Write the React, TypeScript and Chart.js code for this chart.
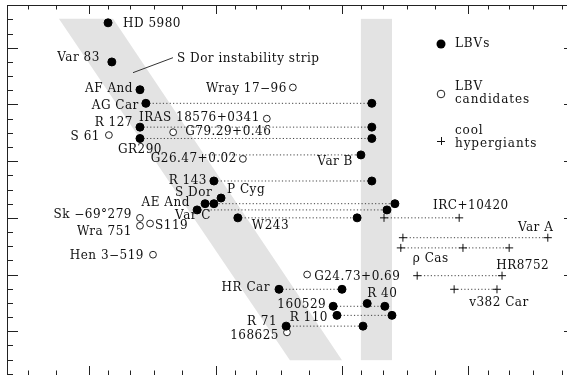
import React, { useEffect, useRef } from 'react';
import { Chart, registerables } from 'chart.js';

Chart.register(...registerables);

// ---------- DATA (x = log Teff, y = bolometric magnitude) ----------
// LBVs in quiescence (filled circles)
const lbvNames = ['HD 5980', 'Var 83', 'AF And', 'AG Car', 'R 127', 'GR290', 'R 143', 'P Cyg', 'S Dor', 'AE And', 'Var C', 'W243', 'HR Car', 'R 40', '160529', 'R 110', 'R 71'];
const lbvLogT = [4.557, 4.548, 4.481, 4.467, 4.481, 4.481, 4.305, 4.288, 4.326, 4.305, 4.345, 4.248, 4.150, 3.940, 4.021, 4.012, 4.133];
const lbvMbol = [-11.44, -10.75, -10.26, -10.02, -9.60, -9.40, -8.65, -8.35, -8.25, -8.25, -8.14, -8.00, -6.74, -6.49, -6.44, -6.28, -6.09];

// LBV eruptions: hot (quiescent) and cool (outburst) temperatures at constant Mbol
const eruptNames = ['AG Car', 'R 127', 'GR290', 'Var B', 'R 143', 'S Dor', 'Var C', 'W243', 'HR Car', '160529', 'R 110', 'R 71'];
const eruptHotLogT = [4.467, 4.481, 4.481, 4.326, 4.305, 4.326, 4.345, 4.248, 4.150, 4.021, 4.012, 4.133];
const eruptCoolLogT = [3.929, 3.929, 3.929, 3.955, 3.929, 3.874, 3.893, 3.964, 4.000, 3.898, 3.881, 3.950];
const eruptMbol = [-10.02, -9.60, -9.40, -9.11, -8.65, -8.25, -8.14, -8.00, -6.74, -6.44, -6.28, -6.09];

// LBV candidates (open circles)
const candNames = ['Wray 17−96', 'IRAS 18576+0341', 'G79.29+0.46', 'S 61', 'G26.47+0.02', 'Sk −69°279', 'Wra 751', 'S119', 'Hen 3−519', 'G24.73+0.69', '168625'];
const candLogT = [4.117, 4.179, 4.402, 4.555, 4.236, 4.481, 4.481, 4.457, 4.450, 4.083, 4.131];
const candMbol = [-10.30, -9.75, -9.51, -9.46, -9.04, -8.00, -7.86, -7.90, -7.35, -7.00, -5.98];

// Cool hypergiants (crosses), several epochs each
const chgNames = ['IRC+10420', 'Var A', 'ρ Cas', 'HR8752', 'v382 Car'];
const chgLogT = [[3.900, 3.721], [3.855, 3.510], [3.860, 3.712, 3.602], [3.821, 3.619], [3.733, 3.631]];
const chgMbol = [-8.00, -7.65, -7.47, -6.98, -6.74];

// S Dor instability strip (polygon corners) and the outburst strip
const stripLogT = [4.674, 4.545, 4.000, 4.124];
const stripMbol = [-11.51, -11.51, -5.49, -5.49];
const coolStripLogT = [3.955, 3.881];
const coolStripMbol = [-11.51, -5.49];
const stripLabel = 'S Dor instability strip';
const stripPointerLogT = [4.4976, 4.4024];
const stripPointerMbol = [-10.561, -10.825];

// Axis ticks
const tempMajor = [5000, 10000, 20000, 40000];
const tempMinor = [3000, 3500, 4000, 4500, 6000, 7000, 8000, 9000, 12000, 14000, 16000, 18000, 24000, 28000, 32000, 36000, 48000, 56000];
const mbolMajor = [-11, -10, -9, -8, -7, -6];

// Label layout: text, group, key, align, dx, dy (pixels)
type Lbl = [string, string, string, CanvasTextAlign, number, number];
const labelLayout: Lbl[] = [
  ['HD 5980', 'lbv', 'HD 5980', 'left', 15, 1],
  ['Var 83', 'lbv', 'Var 83', 'right', -12, -4],
  ['AF And', 'lbv', 'AF And', 'right', -7, -1],
  ['AG Car', 'lbv', 'AG Car', 'right', -7, 3],
  ['R 127', 'lbv', 'R 127', 'right', -7, -4],
  ['GR290', 'lbv', 'GR290', 'center', 0, 11],
  ['Var B', 'cool', 'Var B', 'right', -8, 7],
  ['R 143', 'lbv', 'R 143', 'right', -7, 0],
  ['P Cyg', 'lbv', 'P Cyg', 'left', 6, -8],
  ['S Dor', 'lbv', 'S Dor', 'left', -30, -11],
  ['AE And', 'lbv', 'AE And', 'right', -24, -1],
  ['Var C', 'lbv', 'Var C', 'left', -22, 6],
  ['W243', 'lbv', 'W243', 'left', 14, 8],
  ['HR Car', 'lbv', 'HR Car', 'right', -9, -1],
  ['R 40', 'lbv', 'R 40', 'left', 0, -10],
  ['160529', 'lbv', '160529', 'right', -7, -1],
  ['R 110', 'lbv', 'R 110', 'right', -9, 3],
  ['R 71', 'lbv', 'R 71', 'right', -9, -4],
  ['Wray 17−96', 'cand', 'Wray 17−96', 'right', -6, 1],
  ['IRAS 18576+0341', 'cand', 'IRAS 18576+0341', 'right', -7, -1],
  ['G79.29+0.46', 'cand', 'G79.29+0.46', 'left', 12, 0],
  ['S 61', 'cand', 'S 61', 'right', -9, 2],
  ['G26.47+0.02', 'cand', 'G26.47+0.02', 'right', -6, 0],
  ['Sk −69°279', 'cand', 'Sk −69°279', 'right', -8, -3],
  ['Wra 751', 'cand', 'Wra 751', 'right', -8, 6],
  ['S119', 'cand', 'S119', 'left', 5, 2],
  ['Hen 3−519', 'cand', 'Hen 3−519', 'right', -9, 1],
  ['G24.73+0.69', 'cand', 'G24.73+0.69', 'left', 7, 2],
  ['168625', 'cand', '168625', 'right', -8, 4],
  ['IRC+10420', 'chg', 'IRC+10420', 'left', 49, -12],
  ['Var A', 'chg', 'Var A', 'left', 115, -10],
  ['ρ Cas', 'chg', 'ρ Cas', 'left', 12, 11],
  ['HR8752', 'chg', 'HR8752', 'left', 79, -10],
  ['v382 Car', 'chg', 'v382 Car', 'left', 15, 14],
];

const FONT = '12px "DejaVu Serif"';
const INK = '#111';

function anchorFor(group: string, key: string): [number, number] {
  if (group === 'lbv') { const i = lbvNames.indexOf(key); return [lbvLogT[i], lbvMbol[i]]; }
  if (group === 'cool') { const i = eruptNames.indexOf(key); return [eruptCoolLogT[i], eruptMbol[i]]; }
  if (group === 'cand') { const i = candNames.indexOf(key); return [candLogT[i], candMbol[i]]; }
  const i = chgNames.indexOf(key); return [chgLogT[i][0], chgMbol[i]];
}

export default function App() {
  const ref = useRef<HTMLCanvasElement>(null);

  useEffect(() => {
    const canvas = ref.current!;
    const dotted = [1.2, 2.2];
    const datasets: any[] = [];

    // markers (drawn on top: low order)
    datasets.push({
      label: 'LBVs',
      data: lbvNames.map((_, i) => ({ x: lbvLogT[i], y: lbvMbol[i] }))
        .concat(eruptNames.map((_, i) => ({ x: eruptCoolLogT[i], y: eruptMbol[i] }))),
      pointStyle: 'circle', pointRadius: 4, backgroundColor: '#000', borderColor: '#000', borderWidth: 1,
      showLine: false, order: 0,
    });
    datasets.push({
      label: 'LBV candidates',
      data: candNames.map((_, i) => ({ x: candLogT[i], y: candMbol[i] })),
      pointStyle: 'circle', pointRadius: 3.4, backgroundColor: '#fff', borderColor: '#222', borderWidth: 1,
      showLine: false, order: 0,
    });
    datasets.push({
      label: 'cool hypergiants',
      data: chgNames.flatMap((_, i) => chgLogT[i].map((t) => ({ x: t, y: chgMbol[i] }))),
      pointStyle: 'cross', pointRadius: 4, borderColor: '#111', borderWidth: 1,
      showLine: false, order: 0,
    });

    // dotted connections
    eruptNames.forEach((_, i) => {
      datasets.push({
        data: [{ x: eruptHotLogT[i], y: eruptMbol[i] }, { x: eruptCoolLogT[i], y: eruptMbol[i] }],
        showLine: true, borderColor: '#444', borderWidth: 1, borderDash: dotted, pointRadius: 0, fill: false, order: 5,
      });
    });
    chgNames.forEach((_, i) => {
      datasets.push({
        data: chgLogT[i].map((t) => ({ x: t, y: chgMbol[i] })),
        showLine: true, borderColor: '#444', borderWidth: 1, borderDash: dotted, pointRadius: 0, fill: false, order: 5,
      });
    });
    // pointer line to the strip label
    datasets.push({
      data: stripPointerLogT.map((t, i) => ({ x: t, y: stripPointerMbol[i] })),
      showLine: true, borderColor: '#333', borderWidth: 1, pointRadius: 0, fill: false, order: 5,
    });

    const bandsPlugin = {
      id: 'bands',
      beforeDatasetsDraw(chart: any) {
        const { ctx, scales } = chart;
        const X = (v: number) => scales.x.getPixelForValue(v);
        const Y = (v: number) => scales.y.getPixelForValue(v);
        ctx.save();
        ctx.fillStyle = '#e3e3e3';
        ctx.beginPath();
        stripLogT.forEach((t, i) => {
          if (i === 0) ctx.moveTo(X(t), Y(stripMbol[i])); else ctx.lineTo(X(t), Y(stripMbol[i]));
        });
        ctx.closePath();
        ctx.fill();
        const x0 = X(coolStripLogT[0]), x1 = X(coolStripLogT[1]);
        const y0 = Y(coolStripMbol[0]), y1 = Y(coolStripMbol[1]);
        ctx.fillRect(Math.min(x0, x1), y0, Math.abs(x1 - x0), y1 - y0);
        ctx.restore();
      },
    };

    const decorPlugin = {
      id: 'decor',
      afterDraw(chart: any) {
        const { ctx, scales, chartArea: a } = chart;
        const X = (v: number) => scales.x.getPixelForValue(v);
        const Y = (v: number) => scales.y.getPixelForValue(v);
        ctx.save();
        // frame
        ctx.strokeStyle = '#222';
        ctx.lineWidth = 1;
        ctx.strokeRect(Math.round(a.left) + 0.5, Math.round(a.top) + 0.5, Math.round(a.right - a.left), Math.round(a.bottom - a.top));
        // x ticks (top & bottom, inward)
        const xt = (t: number, len: number) => {
          const x = Math.round(X(Math.log10(t))) + 0.5;
          ctx.beginPath();
          ctx.moveTo(x, a.top); ctx.lineTo(x, a.top + len);
          ctx.moveTo(x, a.bottom); ctx.lineTo(x, a.bottom - len);
          ctx.stroke();
        };
        tempMajor.forEach((t) => xt(t, 9));
        tempMinor.forEach((t) => xt(t, 4.5));
        // y ticks (left & right, inward)
        const yt = (m: number, len: number) => {
          const y = Math.round(Y(m)) + 0.5;
          ctx.beginPath();
          ctx.moveTo(a.left, y); ctx.lineTo(a.left + len, y);
          ctx.moveTo(a.right, y); ctx.lineTo(a.right - len, y);
          ctx.stroke();
        };
        mbolMajor.forEach((m) => yt(m, 11));
        for (let m = -11.75; m <= -5.25; m += 0.25) {
          if (Math.abs(m - Math.round(m)) > 0.01) yt(m, 6);
        }

        // labels
        ctx.font = FONT;
        (ctx as any).letterSpacing = '0.5px';
        ctx.fillStyle = INK;
        ctx.textBaseline = 'middle';
        labelLayout.forEach(([text, g, key, align, dx, dy]) => {
          const [lt, mb] = anchorFor(g, key);
          ctx.textAlign = align;
          ctx.fillText(text, X(lt) + dx, Y(mb) + dy);
        });
        ctx.textAlign = 'left';
        ctx.fillText(stripLabel, X(stripPointerLogT[1]) + 4, Y(stripPointerMbol[1]) + 1);

        // legend
        const lx = 441, tx = 455;
        ctx.fillStyle = '#000';
        ctx.beginPath(); ctx.arc(lx, 44, 4.5, 0, Math.PI * 2); ctx.fill();
        ctx.strokeStyle = '#222';
        ctx.beginPath(); ctx.arc(lx, 94, 3.8, 0, Math.PI * 2); ctx.fillStyle = '#fff'; ctx.fill(); ctx.stroke();
        ctx.strokeStyle = '#111';
        ctx.beginPath(); ctx.moveTo(lx - 4, 141.5); ctx.lineTo(lx + 4, 141.5); ctx.moveTo(lx + 0.5, 137); ctx.lineTo(lx + 0.5, 145); ctx.stroke();
        ctx.fillStyle = INK;
        (ctx as any).letterSpacing = '0.9px';
        ctx.fillText('LBVs', tx, 44);
        ctx.fillText('LBV', tx, 87);
        ctx.fillText('candidates', tx, 100);
        ctx.fillText('cool', tx, 131);
        ctx.fillText('hypergiants', tx, 144);
        (ctx as any).letterSpacing = '0px';
        ctx.restore();
      },
    };

    const chart = new Chart(canvas, {
      type: 'scatter',
      data: { datasets },
      options: {
        responsive: false,
        animation: false,
        devicePixelRatio: 1,
        events: [],
        layout: { padding: { left: 7, top: 5, right: 5, bottom: 3 } },
        plugins: { legend: { display: false }, tooltip: { enabled: false } },
        scales: {
          x: { type: 'linear', reverse: true, min: 4 - 233 / 420, max: 4 + 335 / 420, display: false },
          y: { type: 'linear', reverse: true, min: -11 - 43 / 57, max: -6 + 44 / 57, display: false },
        },
      },
      plugins: [bandsPlugin, decorPlugin],
    } as any);
    return () => chart.destroy();
  }, []);

  return (
    <div style={{ position: 'fixed', left: 0, top: 0, width: 567, height: 375, overflow: 'hidden', background: '#fff' }}>
      <canvas ref={ref} width={580} height={380} style={{ display: 'block', width: 580, height: 380 }} />
    </div>
  );
}
